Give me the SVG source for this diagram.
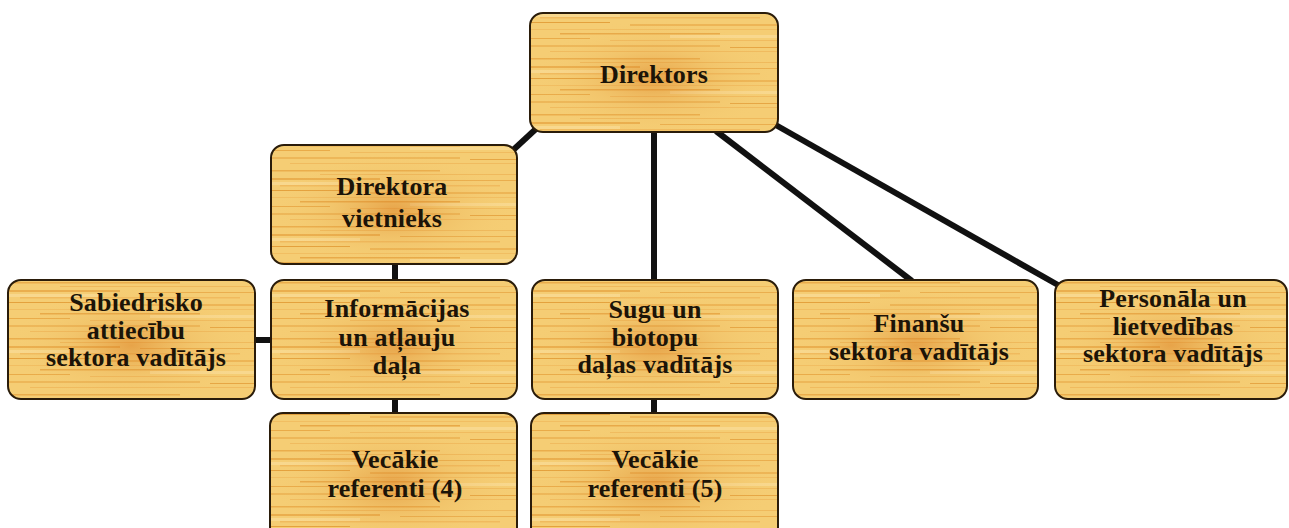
<svg xmlns="http://www.w3.org/2000/svg" width="1289" height="528" viewBox="0 0 1289 528">
<defs>
<pattern id="grain" patternUnits="userSpaceOnUse" width="260" height="56">
<rect width="260" height="56" fill="#f5cd74"/>
<rect x="0" y="2" width="180" height="1.5" fill="#e6a23e" opacity="0.75"/>
<rect x="60" y="6" width="200" height="1" fill="#eeb456" opacity="0.8"/>
<rect x="0" y="10" width="120" height="2" fill="#e39a35" opacity="0.6"/>
<rect x="140" y="12" width="120" height="1" fill="#e6a23e" opacity="0.7"/>
<rect x="20" y="17" width="220" height="1.5" fill="#eeb456" opacity="0.75"/>
<rect x="0" y="22" width="90" height="1" fill="#e0962f" opacity="0.8"/>
<rect x="110" y="24" width="150" height="2" fill="#e6a23e" opacity="0.55"/>
<rect x="0" y="29" width="260" height="1" fill="#eeb456" opacity="0.6"/>
<rect x="40" y="33" width="160" height="1.5" fill="#e39a35" opacity="0.7"/>
<rect x="0" y="38" width="70" height="1" fill="#e6a23e" opacity="0.8"/>
<rect x="90" y="40" width="170" height="1" fill="#eeb456" opacity="0.7"/>
<rect x="0" y="45" width="200" height="2" fill="#e6a23e" opacity="0.5"/>
<rect x="210" y="47" width="50" height="1" fill="#e0962f" opacity="0.7"/>
<rect x="30" y="51" width="230" height="1" fill="#eeb456" opacity="0.7"/>
<rect x="150" y="35" width="110" height="3" fill="#fae0a0" opacity="0.6"/>
<rect x="0" y="14" width="100" height="3" fill="#fae0a0" opacity="0.6"/>
</pattern>
<radialGradient id="spot" cx="0.5" cy="0.55" r="0.5" fx="0.5" fy="0.55">
<stop offset="0" stop-color="#d97a1e" stop-opacity="0.5"/>
<stop offset="0.5" stop-color="#e0963a" stop-opacity="0.15"/>
<stop offset="1" stop-color="#f5cd74" stop-opacity="0"/>
</radialGradient>
</defs>
<style>
.wood{fill:url(#grain);}
.spot{fill:url(#spot);}
.frame{fill:none;stroke:#2a1c0a;stroke-width:2;}
.conn{stroke:#111;stroke-width:6;fill:none;stroke-linecap:butt;}
text{font-family:"Liberation Serif","Times New Roman",serif;font-weight:bold;font-size:26px;fill:#1c1408;text-anchor:middle;letter-spacing:0.2px;}
</style>
<rect width="1289" height="528" fill="#ffffff"/>
<g id="connectors">
<line class="conn" x1="538" y1="127" x2="511" y2="152"/>
<line class="conn" x1="654" y1="131" x2="654" y2="281"/>
<line class="conn" x1="716" y1="131" x2="912" y2="281"/>
<line class="conn" x1="774" y1="124" x2="1058" y2="285"/>
<line class="conn" x1="395" y1="263" x2="395" y2="281"/>
<line class="conn" x1="254" y1="340" x2="272" y2="340"/>
<line class="conn" x1="395" y1="398" x2="395" y2="414"/>
<line class="conn" x1="654" y1="398" x2="654" y2="414"/>
</g>
<g id="n-direktors">
<rect class="wood" x="530" y="13" width="248" height="119" rx="13"/>
<rect class="spot" x="530" y="13" width="248" height="119" rx="13"/>
<rect class="frame" x="530" y="13" width="248" height="119" rx="13"/>
<text x="654" y="83">Direktors</text>
</g>
<g id="n-vietnieks">
<rect class="wood" x="271" y="145" width="246" height="119" rx="13"/>
<rect class="spot" x="271" y="145" width="246" height="119" rx="13"/>
<rect class="frame" x="271" y="145" width="246" height="119" rx="13"/>
<text x="392" y="195">Direktora</text>
<text x="392" y="227">vietnieks</text>
</g>
<g id="n-sabiedrisko">
<rect class="wood" x="8" y="280" width="247" height="119" rx="13"/>
<rect class="spot" x="8" y="280" width="247" height="119" rx="13"/>
<rect class="frame" x="8" y="280" width="247" height="119" rx="13"/>
<text x="136" y="311">Sabiedrisko</text>
<text x="136" y="339">attiecību</text>
<text x="136" y="366">sektora vadītājs</text>
</g>
<g id="n-informacijas">
<rect class="wood" x="271" y="280" width="246" height="119" rx="13"/>
<rect class="spot" x="271" y="280" width="246" height="119" rx="13"/>
<rect class="frame" x="271" y="280" width="246" height="119" rx="13"/>
<text x="397" y="317">Informācijas</text>
<text x="397" y="346">un atļauju</text>
<text x="397" y="374">daļa</text>
</g>
<g id="n-sugu">
<rect class="wood" x="532" y="280" width="246" height="119" rx="13"/>
<rect class="spot" x="532" y="280" width="246" height="119" rx="13"/>
<rect class="frame" x="532" y="280" width="246" height="119" rx="13"/>
<text x="655" y="318">Sugu un</text>
<text x="655" y="346">biotopu</text>
<text x="655" y="373">daļas vadītājs</text>
</g>
<g id="n-finansu">
<rect class="wood" x="793" y="280" width="245" height="119" rx="13"/>
<rect class="spot" x="793" y="280" width="245" height="119" rx="13"/>
<rect class="frame" x="793" y="280" width="245" height="119" rx="13"/>
<text x="919" y="332">Finanšu</text>
<text x="919" y="360">sektora vadītājs</text>
</g>
<g id="n-personala">
<rect class="wood" x="1055" y="280" width="232" height="119" rx="13"/>
<rect class="spot" x="1055" y="280" width="232" height="119" rx="13"/>
<rect class="frame" x="1055" y="280" width="232" height="119" rx="13"/>
<text x="1173" y="307">Personāla un</text>
<text x="1173" y="335">lietvedības</text>
<text x="1173" y="362">sektora vadītājs</text>
</g>
<g id="n-vecakie4">
<rect class="wood" x="270" y="413" width="247" height="130" rx="13"/>
<rect class="spot" x="270" y="413" width="247" height="130" rx="13"/>
<rect class="frame" x="270" y="413" width="247" height="130" rx="13"/>
<text x="395" y="468">Vecākie</text>
<text x="395" y="497">referenti (4)</text>
</g>
<g id="n-vecakie5">
<rect class="wood" x="531" y="413" width="247" height="130" rx="13"/>
<rect class="spot" x="531" y="413" width="247" height="130" rx="13"/>
<rect class="frame" x="531" y="413" width="247" height="130" rx="13"/>
<text x="655" y="468">Vecākie</text>
<text x="655" y="497">referenti (5)</text>
</g>
</svg>
